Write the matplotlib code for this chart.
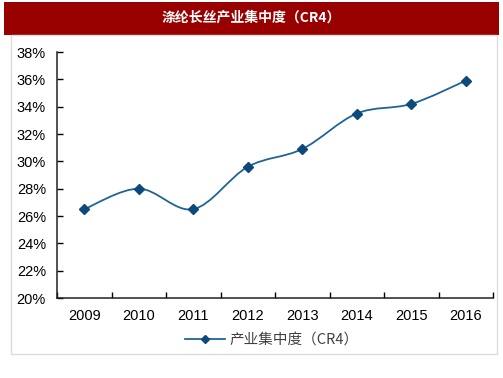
import matplotlib
matplotlib.use("Agg")
import numpy as np
from matplotlib import pyplot as plt
from matplotlib.path import Path
from matplotlib.patches import PathPatch, Rectangle
from matplotlib.lines import Line2D

plt.rcParams['font.family'] = ['Liberation Sans', 'Noto Sans CJK SC', 'DejaVu Sans']

# data
years = ['2009', '2010', '2011', '2012', '2013', '2014', '2015', '2016']
cr4 = [26.5, 28.0, 26.5, 29.6, 30.9, 33.5, 34.2, 35.9]
y_ticks = [20, 22, 24, 26, 28, 30, 32, 34, 36, 38]
title = '涤纶长丝产业集中度（CR4）'
series_name = '产业集中度（CR4）'

line_col = '#1f6496'
mark_col = '#0b4a7a'

fig = plt.figure(figsize=(5.03, 3.78), dpi=100)

# title bar
fig.patches.append(Rectangle((4 / 503, 1 - 35 / 378), 495 / 503, 33 / 378,
                             transform=fig.transFigure, facecolor='#990000',
                             edgecolor='none', zorder=0))
fig.text(0.5, 1 - 18 / 378, title, color='white', fontsize=10, fontweight='bold',
         ha='center', va='center', family=['Noto Sans CJK SC', 'DejaVu Sans'])
# light frame
fig.patches.append(Rectangle((11 / 503, 1 - 354 / 378), 486 / 503, 319 / 378,
                             transform=fig.transFigure, facecolor='none',
                             edgecolor='#dcdcdc', lw=1, zorder=0))

ax = fig.add_axes([57 / 503, 80 / 378, 436 / 503, 246 / 378])
x = np.arange(len(years))

# smooth curve (catmull-rom -> bezier) through the points
verts = [(x[0], cr4[0])]
codes = [Path.MOVETO]
pts = list(zip(x, cr4))
for i in range(len(pts) - 1):
    p0 = pts[i - 1] if i > 0 else pts[i]
    p1 = pts[i]
    p2 = pts[i + 1]
    p3 = pts[i + 2] if i + 2 < len(pts) else pts[i + 1]
    c1 = (p1[0] + (p2[0] - p0[0]) / 6, p1[1] + (p2[1] - p0[1]) / 6)
    c2 = (p2[0] - (p3[0] - p1[0]) / 6, p2[1] - (p3[1] - p1[1]) / 6)
    verts += [c1, c2, p2]
    codes += [Path.CURVE4] * 3
ax.add_patch(PathPatch(Path(verts, codes), facecolor='none', edgecolor=line_col, lw=1.3))
ax.plot(x, cr4, linestyle='none', marker='D', markersize=5, color=mark_col)

ax.set_xlim(-0.5, len(years) - 0.5)
ax.set_ylim(20, 38)
ax.set_yticks(y_ticks)
ax.set_yticklabels([f'{v}%' for v in y_ticks])
ax.set_xticks(np.arange(len(years) + 1) - 0.5)
ax.set_xticklabels([])
ax.set_xticks(x, minor=True)
ax.set_xticklabels(years, minor=True)
ax.tick_params(axis='x', which='major', direction='in', length=4, width=1)
ax.tick_params(axis='x', which='minor', length=0, pad=8, labelsize=10.5)
ax.tick_params(axis='y', direction='in', length=4, width=1, pad=8, labelsize=10.5)
for s in ['top', 'right']:
    ax.spines[s].set_visible(False)
for s in ['left', 'bottom']:
    ax.spines[s].set_color('#222222')
    ax.spines[s].set_linewidth(1.1)

handle = Line2D([], [], color=line_col, lw=1.3, marker='D', markersize=4,
                markerfacecolor=mark_col, markeredgecolor=mark_col)
leg = ax.legend([handle], [series_name], loc='center', bbox_to_anchor=(0.493, -0.17),
                frameon=False, handlelength=2.7, handletextpad=0.35, fontsize=10.5)
for t in leg.get_texts():
    t.set_color('#404040')
    t.set_family(['Noto Sans CJK SC', 'DejaVu Sans'])

fig.savefig('out.png', dpi=100)
